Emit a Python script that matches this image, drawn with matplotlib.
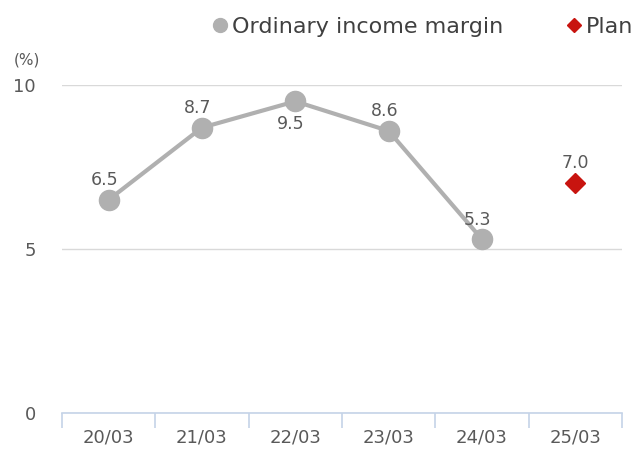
import numpy as np
import matplotlib
matplotlib.use('Agg')
import matplotlib.pyplot as plt
from matplotlib.lines import Line2D

# Fiscal years and ordinary income margin (%)
years = ['20/03', '21/03', '22/03', '23/03', '24/03', '25/03']
margin = [6.5, 8.7, 9.5, 8.6, 5.3]
plan = [7.0]

textColor = '#595959'
lineColor = '#b0b0b0'
planColor = '#c8140f'

plt.rcParams['font.family'] = ['DejaVu Sans']

fig = plt.figure(figsize=(6.42, 4.5), dpi=100)
ax = fig.add_axes([0.0966, 0.0822, 0.872, 0.729])

xAct = np.arange(len(margin))
xPlan = np.arange(len(margin), len(margin) + len(plan))

ax.plot(xAct, margin, color=lineColor, lw=3, marker='o', ms=14.5, zorder=3)
ax.plot(xPlan, plan, color=planColor, lw=0, marker='D', ms=10.5, zorder=3)

# Data labels: above the point, except 22/03 which sits below.
for x, v in zip(xAct, margin):
    dy = -16 if v == max(margin) else 14
    ax.annotate('%.1f' % v, (x, v), xytext=(-3, dy), textcoords='offset points',
                ha='center', va='center', fontsize=12.5, color=textColor)
for x, v in zip(xPlan, plan):
    ax.annotate('%.1f' % v, (x, v), xytext=(0, 15), textcoords='offset points',
                ha='center', va='center', fontsize=12.5, color=textColor)

ax.set_xlim(-0.5, len(years) - 0.5)
ax.set_ylim(0, 10)
ax.set_yticks([0, 5, 10])
ax.set_xticks(np.arange(len(years)))
ax.set_xticklabels(years)
ax.set_xticks(np.arange(len(years) + 1) - 0.5, minor=True)

ax.grid(axis='y', color='#d9d9d9', lw=1)
ax.set_axisbelow(True)
for s in ['top', 'right', 'left']:
    ax.spines[s].set_visible(False)
ax.spines['bottom'].set_color('#c5d3e8')
ax.spines['bottom'].set_linewidth(1.2)

ax.tick_params(axis='y', length=0, pad=19, labelsize=13, labelcolor=textColor)
ax.tick_params(axis='x', which='major', length=0, pad=11, labelsize=13,
               labelcolor=textColor)
ax.tick_params(axis='x', which='minor', length=11, width=1.2, color='#c5d3e8')

fig.text(0.022, 0.866, '(%)', fontsize=11, color=textColor, va='center')

# Legend with marker-only handles.
handles = [Line2D([], [], ls='none', marker='o', ms=10, color=lineColor),
           Line2D([], [], ls='none', marker='D', ms=7.5, color=planColor)]
ax.legend(handles, ['Ordinary income margin', 'Plan'], ncol=2,
          loc='center left', bbox_to_anchor=(0.3326, 0.94),
          bbox_transform=fig.transFigure, frameon=False, fontsize=16,
          borderpad=0, borderaxespad=0, handlelength=0.6, handletextpad=0.25,
          columnspacing=2.86, labelcolor='#404040')

fig.savefig('out.png', dpi=100)
